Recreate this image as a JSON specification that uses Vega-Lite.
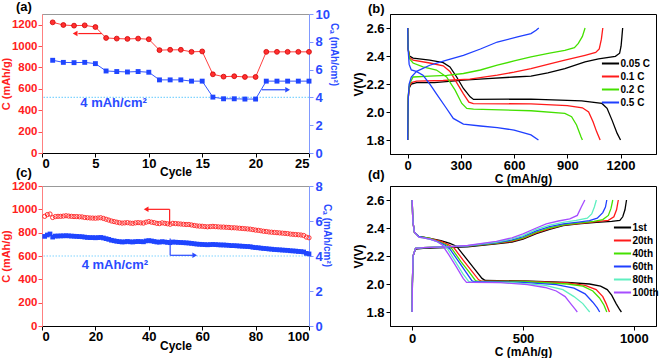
{
"$schema":"https://vega.github.io/schema/vega-lite/v6.json",
"padding":{"left":-1,"top":0,"right":0,"bottom":0},
"resolve":{"scale":{"color":"independent"},"legend":{"color":"independent"}},
"config":{"font":"Liberation Sans","view":{"stroke":"black","strokeWidth":1},
"axis":{"grid":false,"labelFontWeight":"bold","titleFontWeight":"bold","labelFontSize":13,"titleFontSize":12,"labelColor":"black","titleColor":"black","domainColor":"black","tickColor":"black","tickSize":4,"labelPadding":2,"titlePadding":3},
"title":{"fontSize":13,"fontWeight":"bold","anchor":"start","frame":"group","color":"black","offset":0},
"legend":{"labelFontSize":10,"labelFontWeight":"bold","labelColor":"black","rowPadding":0,"symbolStrokeWidth":2,"symbolType":"M-1.4,0H1.4","symbolSize":150,"labelOffset":2.5,"title":null}},
"columns":2,
"spacing":{"row":32,"column":81},
"bounds":"flush",
"datasets":{
"a":[{"cycle":1,"c":1222,"ca":6.67},{"cycle":2,"c":1197,"ca":6.52},{"cycle":3,"c":1191,"ca":6.5},{"cycle":4,"c":1194,"ca":6.52},{"cycle":5,"c":1178,"ca":6.43},{"cycle":6,"c":1076,"ca":5.9},{"cycle":7,"c":1070,"ca":5.86},{"cycle":8,"c":1067,"ca":5.83},{"cycle":9,"c":1070,"ca":5.86},{"cycle":10,"c":1064,"ca":5.81},{"cycle":11,"c":962,"ca":5.26},{"cycle":12,"c":965,"ca":5.26},{"cycle":13,"c":965,"ca":5.26},{"cycle":14,"c":946,"ca":5.17},{"cycle":15,"c":950,"ca":5.17},{"cycle":16,"c":736,"ca":4.02},{"cycle":17,"c":714,"ca":3.9},{"cycle":18,"c":718,"ca":3.9},{"cycle":19,"c":711,"ca":3.88},{"cycle":20,"c":711,"ca":3.88},{"cycle":21,"c":946,"ca":5.17},{"cycle":22,"c":946,"ca":5.17},{"cycle":23,"c":946,"ca":5.17},{"cycle":24,"c":946,"ca":5.17},{"cycle":25,"c":946,"ca":5.17}],
"c":[{"cycle":1,"c":940,"ca":5.12},{"cycle":2,"c":955,"ca":5.2},{"cycle":3,"c":960,"ca":5.26},{"cycle":4,"c":930,"ca":5.08},{"cycle":5,"c":938,"ca":5.14},{"cycle":6,"c":940,"ca":5.14},{"cycle":7,"c":940,"ca":5.15},{"cycle":8,"c":942,"ca":5.15},{"cycle":9,"c":945,"ca":5.16},{"cycle":10,"c":942,"ca":5.15},{"cycle":11,"c":940,"ca":5.14},{"cycle":12,"c":938,"ca":5.13},{"cycle":13,"c":938,"ca":5.12},{"cycle":14,"c":936,"ca":5.11},{"cycle":15,"c":935,"ca":5.1},{"cycle":16,"c":930,"ca":5.08},{"cycle":17,"c":928,"ca":5.06},{"cycle":18,"c":926,"ca":5.05},{"cycle":19,"c":925,"ca":5.05},{"cycle":20,"c":924,"ca":5.04},{"cycle":21,"c":926,"ca":5.05},{"cycle":22,"c":928,"ca":5.06},{"cycle":23,"c":922,"ca":5.03},{"cycle":24,"c":915,"ca":4.99},{"cycle":25,"c":908,"ca":4.95},{"cycle":26,"c":900,"ca":4.9},{"cycle":27,"c":895,"ca":4.87},{"cycle":28,"c":890,"ca":4.84},{"cycle":29,"c":885,"ca":4.82},{"cycle":30,"c":882,"ca":4.8},{"cycle":31,"c":884,"ca":4.81},{"cycle":32,"c":886,"ca":4.83},{"cycle":33,"c":882,"ca":4.81},{"cycle":34,"c":880,"ca":4.8},{"cycle":35,"c":884,"ca":4.82},{"cycle":36,"c":886,"ca":4.83},{"cycle":37,"c":884,"ca":4.82},{"cycle":38,"c":882,"ca":4.81},{"cycle":39,"c":890,"ca":4.86},{"cycle":40,"c":895,"ca":4.88},{"cycle":41,"c":890,"ca":4.86},{"cycle":42,"c":886,"ca":4.83},{"cycle":43,"c":880,"ca":4.8},{"cycle":44,"c":878,"ca":4.79},{"cycle":45,"c":884,"ca":4.82},{"cycle":46,"c":880,"ca":4.8},{"cycle":47,"c":876,"ca":4.78},{"cycle":48,"c":872,"ca":4.76},{"cycle":49,"c":880,"ca":4.8},{"cycle":50,"c":878,"ca":4.79},{"cycle":51,"c":876,"ca":4.78},{"cycle":52,"c":874,"ca":4.77},{"cycle":53,"c":872,"ca":4.76},{"cycle":54,"c":870,"ca":4.75},{"cycle":55,"c":870,"ca":4.74},{"cycle":56,"c":866,"ca":4.72},{"cycle":57,"c":862,"ca":4.7},{"cycle":58,"c":858,"ca":4.68},{"cycle":59,"c":856,"ca":4.67},{"cycle":60,"c":855,"ca":4.66},{"cycle":61,"c":852,"ca":4.65},{"cycle":62,"c":850,"ca":4.64},{"cycle":63,"c":852,"ca":4.65},{"cycle":64,"c":854,"ca":4.66},{"cycle":65,"c":852,"ca":4.65},{"cycle":66,"c":850,"ca":4.64},{"cycle":67,"c":848,"ca":4.63},{"cycle":68,"c":848,"ca":4.63},{"cycle":69,"c":846,"ca":4.62},{"cycle":70,"c":845,"ca":4.61},{"cycle":71,"c":842,"ca":4.59},{"cycle":72,"c":842,"ca":4.59},{"cycle":73,"c":840,"ca":4.58},{"cycle":74,"c":838,"ca":4.57},{"cycle":75,"c":836,"ca":4.56},{"cycle":76,"c":834,"ca":4.55},{"cycle":77,"c":832,"ca":4.54},{"cycle":78,"c":830,"ca":4.53},{"cycle":79,"c":826,"ca":4.5},{"cycle":80,"c":822,"ca":4.48},{"cycle":81,"c":820,"ca":4.47},{"cycle":82,"c":816,"ca":4.45},{"cycle":83,"c":812,"ca":4.43},{"cycle":84,"c":810,"ca":4.42},{"cycle":85,"c":806,"ca":4.4},{"cycle":86,"c":804,"ca":4.39},{"cycle":87,"c":802,"ca":4.37},{"cycle":88,"c":800,"ca":4.36},{"cycle":89,"c":798,"ca":4.35},{"cycle":90,"c":796,"ca":4.34},{"cycle":91,"c":794,"ca":4.33},{"cycle":92,"c":792,"ca":4.32},{"cycle":93,"c":788,"ca":4.3},{"cycle":94,"c":786,"ca":4.29},{"cycle":95,"c":784,"ca":4.28},{"cycle":96,"c":782,"ca":4.26},{"cycle":97,"c":780,"ca":4.25},{"cycle":98,"c":776,"ca":4.23},{"cycle":99,"c":762,"ca":4.15},{"cycle":100,"c":756,"ca":4.12}],
"b":[
{"r":"0.05 C","s":"d","x":0,"v":2.6},{"r":"0.05 C","s":"d","x":1,"v":2.5},{"r":"0.05 C","s":"d","x":2,"v":2.45},{"r":"0.05 C","s":"d","x":10,"v":2.4},{"r":"0.05 C","s":"d","x":30,"v":2.385},{"r":"0.05 C","s":"d","x":124,"v":2.37},{"r":"0.05 C","s":"d","x":200,"v":2.353},{"r":"0.05 C","s":"d","x":238,"v":2.322},{"r":"0.05 C","s":"d","x":276,"v":2.25},{"r":"0.05 C","s":"d","x":314,"v":2.168},{"r":"0.05 C","s":"d","x":352,"v":2.108},{"r":"0.05 C","s":"d","x":371,"v":2.09},{"r":"0.05 C","s":"d","x":695,"v":2.092},{"r":"0.05 C","s":"d","x":981,"v":2.08},{"r":"0.05 C","s":"d","x":1095,"v":2.061},{"r":"0.05 C","s":"d","x":1124,"v":2.026},{"r":"0.05 C","s":"d","x":1152,"v":1.942},{"r":"0.05 C","s":"d","x":1181,"v":1.847},{"r":"0.05 C","s":"d","x":1200,"v":1.8},
{"r":"0.05 C","s":"c","x":0,"v":1.8},{"r":"0.05 C","s":"c","x":1,"v":1.95},{"r":"0.05 C","s":"c","x":3,"v":2.1},{"r":"0.05 C","s":"c","x":8,"v":2.17},{"r":"0.05 C","s":"c","x":20,"v":2.2},{"r":"0.05 C","s":"c","x":50,"v":2.21},{"r":"0.05 C","s":"c","x":150,"v":2.21},{"r":"0.05 C","s":"c","x":314,"v":2.227},{"r":"0.05 C","s":"c","x":450,"v":2.238},{"r":"0.05 C","s":"c","x":600,"v":2.25},{"r":"0.05 C","s":"c","x":695,"v":2.256},{"r":"0.05 C","s":"c","x":790,"v":2.28},{"r":"0.05 C","s":"c","x":886,"v":2.31},{"r":"0.05 C","s":"c","x":1000,"v":2.358},{"r":"0.05 C","s":"c","x":1076,"v":2.38},{"r":"0.05 C","s":"c","x":1171,"v":2.398},{"r":"0.05 C","s":"c","x":1195,"v":2.42},{"r":"0.05 C","s":"c","x":1203,"v":2.47},{"r":"0.05 C","s":"c","x":1208,"v":2.54},{"r":"0.05 C","s":"c","x":1212,"v":2.6},
{"r":"0.1 C","s":"d","x":0,"v":2.6},{"r":"0.1 C","s":"d","x":1,"v":2.5},{"r":"0.1 C","s":"d","x":2,"v":2.45},{"r":"0.1 C","s":"d","x":10,"v":2.39},{"r":"0.1 C","s":"d","x":30,"v":2.37},{"r":"0.1 C","s":"d","x":124,"v":2.35},{"r":"0.1 C","s":"d","x":200,"v":2.33},{"r":"0.1 C","s":"d","x":238,"v":2.29},{"r":"0.1 C","s":"d","x":276,"v":2.21},{"r":"0.1 C","s":"d","x":314,"v":2.13},{"r":"0.1 C","s":"d","x":345,"v":2.07},{"r":"0.1 C","s":"d","x":370,"v":2.06},{"r":"0.1 C","s":"d","x":695,"v":2.058},{"r":"0.1 C","s":"d","x":900,"v":2.045},{"r":"0.1 C","s":"d","x":985,"v":2.03},{"r":"0.1 C","s":"d","x":1020,"v":2.0},{"r":"0.1 C","s":"d","x":1045,"v":1.93},{"r":"0.1 C","s":"d","x":1065,"v":1.86},{"r":"0.1 C","s":"d","x":1085,"v":1.8},
{"r":"0.1 C","s":"c","x":0,"v":1.8},{"r":"0.1 C","s":"c","x":1,"v":1.95},{"r":"0.1 C","s":"c","x":3,"v":2.1},{"r":"0.1 C","s":"c","x":8,"v":2.18},{"r":"0.1 C","s":"c","x":20,"v":2.21},{"r":"0.1 C","s":"c","x":50,"v":2.22},{"r":"0.1 C","s":"c","x":200,"v":2.225},{"r":"0.1 C","s":"c","x":350,"v":2.235},{"r":"0.1 C","s":"c","x":505,"v":2.263},{"r":"0.1 C","s":"c","x":600,"v":2.285},{"r":"0.1 C","s":"c","x":695,"v":2.31},{"r":"0.1 C","s":"c","x":790,"v":2.34},{"r":"0.1 C","s":"c","x":886,"v":2.37},{"r":"0.1 C","s":"c","x":1000,"v":2.405},{"r":"0.1 C","s":"c","x":1060,"v":2.425},{"r":"0.1 C","s":"c","x":1080,"v":2.45},{"r":"0.1 C","s":"c","x":1092,"v":2.52},{"r":"0.1 C","s":"c","x":1100,"v":2.6},
{"r":"0.2 C","s":"d","x":0,"v":2.6},{"r":"0.2 C","s":"d","x":1,"v":2.5},{"r":"0.2 C","s":"d","x":3,"v":2.45},{"r":"0.2 C","s":"d","x":10,"v":2.38},{"r":"0.2 C","s":"d","x":30,"v":2.35},{"r":"0.2 C","s":"d","x":86,"v":2.322},{"r":"0.2 C","s":"d","x":162,"v":2.3},{"r":"0.2 C","s":"d","x":219,"v":2.25},{"r":"0.2 C","s":"d","x":267,"v":2.156},{"r":"0.2 C","s":"d","x":305,"v":2.061},{"r":"0.2 C","s":"d","x":333,"v":2.026},{"r":"0.2 C","s":"d","x":371,"v":2.02},{"r":"0.2 C","s":"d","x":695,"v":2.009},{"r":"0.2 C","s":"d","x":886,"v":1.99},{"r":"0.2 C","s":"d","x":924,"v":1.966},{"r":"0.2 C","s":"d","x":952,"v":1.907},{"r":"0.2 C","s":"d","x":977,"v":1.824},{"r":"0.2 C","s":"d","x":985,"v":1.8},
{"r":"0.2 C","s":"c","x":0,"v":1.8},{"r":"0.2 C","s":"c","x":1,"v":1.95},{"r":"0.2 C","s":"c","x":3,"v":2.12},{"r":"0.2 C","s":"c","x":10,"v":2.2},{"r":"0.2 C","s":"c","x":30,"v":2.25},{"r":"0.2 C","s":"c","x":124,"v":2.256},{"r":"0.2 C","s":"c","x":220,"v":2.262},{"r":"0.2 C","s":"c","x":314,"v":2.275},{"r":"0.2 C","s":"c","x":410,"v":2.3},{"r":"0.2 C","s":"c","x":505,"v":2.334},{"r":"0.2 C","s":"c","x":600,"v":2.365},{"r":"0.2 C","s":"c","x":695,"v":2.393},{"r":"0.2 C","s":"c","x":800,"v":2.42},{"r":"0.2 C","s":"c","x":886,"v":2.44},{"r":"0.2 C","s":"c","x":940,"v":2.46},{"r":"0.2 C","s":"c","x":962,"v":2.49},{"r":"0.2 C","s":"c","x":985,"v":2.54},{"r":"0.2 C","s":"c","x":1000,"v":2.6},
{"r":"0.5 C","s":"d","x":0,"v":2.6},{"r":"0.5 C","s":"d","x":2,"v":2.45},{"r":"0.5 C","s":"d","x":8,"v":2.34},{"r":"0.5 C","s":"d","x":20,"v":2.3},{"r":"0.5 C","s":"d","x":48,"v":2.29},{"r":"0.5 C","s":"d","x":86,"v":2.263},{"r":"0.5 C","s":"d","x":124,"v":2.2},{"r":"0.5 C","s":"d","x":162,"v":2.13},{"r":"0.5 C","s":"d","x":219,"v":2.025},{"r":"0.5 C","s":"d","x":257,"v":1.954},{"r":"0.5 C","s":"d","x":314,"v":1.914},{"r":"0.5 C","s":"d","x":410,"v":1.9},{"r":"0.5 C","s":"d","x":505,"v":1.888},{"r":"0.5 C","s":"d","x":600,"v":1.871},{"r":"0.5 C","s":"d","x":695,"v":1.836},{"r":"0.5 C","s":"d","x":737,"v":1.8},
{"r":"0.5 C","s":"c","x":0,"v":1.8},{"r":"0.5 C","s":"c","x":1,"v":1.95},{"r":"0.5 C","s":"c","x":3,"v":2.1},{"r":"0.5 C","s":"c","x":8,"v":2.2},{"r":"0.5 C","s":"c","x":20,"v":2.25},{"r":"0.5 C","s":"c","x":50,"v":2.29},{"r":"0.5 C","s":"c","x":124,"v":2.334},{"r":"0.5 C","s":"c","x":220,"v":2.37},{"r":"0.5 C","s":"c","x":314,"v":2.405},{"r":"0.5 C","s":"c","x":410,"v":2.45},{"r":"0.5 C","s":"c","x":505,"v":2.5},{"r":"0.5 C","s":"c","x":619,"v":2.536},{"r":"0.5 C","s":"c","x":695,"v":2.56},{"r":"0.5 C","s":"c","x":724,"v":2.584},{"r":"0.5 C","s":"c","x":739,"v":2.6}],
"d":[
{"k":"1st","s":"d","x":0,"v":2.6},{"k":"1st","s":"d","x":3,"v":2.45},{"k":"1st","s":"d","x":10,"v":2.37},{"k":"1st","s":"d","x":30,"v":2.34},{"k":"1st","s":"d","x":80,"v":2.325},{"k":"1st","s":"d","x":130,"v":2.31},{"k":"1st","s":"d","x":170,"v":2.29},{"k":"1st","s":"d","x":200,"v":2.27},{"k":"1st","s":"d","x":240,"v":2.19},{"k":"1st","s":"d","x":280,"v":2.11},{"k":"1st","s":"d","x":315,"v":2.04},{"k":"1st","s":"d","x":330,"v":2.025},{"k":"1st","s":"d","x":500,"v":2.022},{"k":"1st","s":"d","x":700,"v":2.012},{"k":"1st","s":"d","x":800,"v":2.0},{"k":"1st","s":"d","x":850,"v":1.985},{"k":"1st","s":"d","x":880,"v":1.96},{"k":"1st","s":"d","x":900,"v":1.92},{"k":"1st","s":"d","x":920,"v":1.86},{"k":"1st","s":"d","x":935,"v":1.82},{"k":"1st","s":"d","x":944,"v":1.8},
{"k":"1st","s":"c","x":0,"v":1.8},{"k":"1st","s":"c","x":1,"v":2.0},{"k":"1st","s":"c","x":4,"v":2.2},{"k":"1st","s":"c","x":15,"v":2.25},{"k":"1st","s":"c","x":50,"v":2.255},{"k":"1st","s":"c","x":150,"v":2.26},{"k":"1st","s":"c","x":250,"v":2.265},{"k":"1st","s":"c","x":380,"v":2.287},{"k":"1st","s":"c","x":450,"v":2.3},{"k":"1st","s":"c","x":500,"v":2.32},{"k":"1st","s":"c","x":560,"v":2.36},{"k":"1st","s":"c","x":620,"v":2.39},{"k":"1st","s":"c","x":681,"v":2.417},{"k":"1st","s":"c","x":750,"v":2.43},{"k":"1st","s":"c","x":831,"v":2.44},{"k":"1st","s":"c","x":900,"v":2.447},{"k":"1st","s":"c","x":937,"v":2.455},{"k":"1st","s":"c","x":950,"v":2.48},{"k":"1st","s":"c","x":960,"v":2.53},{"k":"1st","s":"c","x":967,"v":2.6},
{"k":"20th","s":"d","x":0,"v":2.6},{"k":"20th","s":"d","x":3,"v":2.45},{"k":"20th","s":"d","x":10,"v":2.37},{"k":"20th","s":"d","x":30,"v":2.34},{"k":"20th","s":"d","x":80,"v":2.325},{"k":"20th","s":"d","x":130,"v":2.305},{"k":"20th","s":"d","x":165,"v":2.28},{"k":"20th","s":"d","x":190,"v":2.255},{"k":"20th","s":"d","x":230,"v":2.17},{"k":"20th","s":"d","x":270,"v":2.09},{"k":"20th","s":"d","x":300,"v":2.03},{"k":"20th","s":"d","x":312,"v":2.02},{"k":"20th","s":"d","x":500,"v":2.02},{"k":"20th","s":"d","x":700,"v":2.008},{"k":"20th","s":"d","x":780,"v":1.99},{"k":"20th","s":"d","x":830,"v":1.96},{"k":"20th","s":"d","x":860,"v":1.91},{"k":"20th","s":"d","x":875,"v":1.86},{"k":"20th","s":"d","x":890,"v":1.8},
{"k":"20th","s":"c","x":0,"v":1.8},{"k":"20th","s":"c","x":1,"v":2.0},{"k":"20th","s":"c","x":4,"v":2.2},{"k":"20th","s":"c","x":15,"v":2.255},{"k":"20th","s":"c","x":50,"v":2.26},{"k":"20th","s":"c","x":150,"v":2.265},{"k":"20th","s":"c","x":250,"v":2.27},{"k":"20th","s":"c","x":380,"v":2.29},{"k":"20th","s":"c","x":450,"v":2.305},{"k":"20th","s":"c","x":500,"v":2.325},{"k":"20th","s":"c","x":560,"v":2.365},{"k":"20th","s":"c","x":620,"v":2.395},{"k":"20th","s":"c","x":681,"v":2.42},{"k":"20th","s":"c","x":750,"v":2.432},{"k":"20th","s":"c","x":831,"v":2.445},{"k":"20th","s":"c","x":885,"v":2.455},{"k":"20th","s":"c","x":910,"v":2.48},{"k":"20th","s":"c","x":922,"v":2.53},{"k":"20th","s":"c","x":930,"v":2.6},
{"k":"40th","s":"d","x":0,"v":2.6},{"k":"40th","s":"d","x":3,"v":2.45},{"k":"40th","s":"d","x":10,"v":2.37},{"k":"40th","s":"d","x":30,"v":2.34},{"k":"40th","s":"d","x":80,"v":2.325},{"k":"40th","s":"d","x":125,"v":2.3},{"k":"40th","s":"d","x":160,"v":2.275},{"k":"40th","s":"d","x":180,"v":2.25},{"k":"40th","s":"d","x":220,"v":2.16},{"k":"40th","s":"d","x":260,"v":2.08},{"k":"40th","s":"d","x":285,"v":2.025},{"k":"40th","s":"d","x":298,"v":2.018},{"k":"40th","s":"d","x":500,"v":2.018},{"k":"40th","s":"d","x":700,"v":2.0},{"k":"40th","s":"d","x":770,"v":1.985},{"k":"40th","s":"d","x":815,"v":1.95},{"k":"40th","s":"d","x":845,"v":1.9},{"k":"40th","s":"d","x":865,"v":1.85},{"k":"40th","s":"d","x":878,"v":1.8},
{"k":"40th","s":"c","x":0,"v":1.8},{"k":"40th","s":"c","x":1,"v":2.0},{"k":"40th","s":"c","x":4,"v":2.2},{"k":"40th","s":"c","x":15,"v":2.255},{"k":"40th","s":"c","x":50,"v":2.26},{"k":"40th","s":"c","x":150,"v":2.265},{"k":"40th","s":"c","x":250,"v":2.27},{"k":"40th","s":"c","x":380,"v":2.292},{"k":"40th","s":"c","x":450,"v":2.31},{"k":"40th","s":"c","x":500,"v":2.33},{"k":"40th","s":"c","x":560,"v":2.37},{"k":"40th","s":"c","x":620,"v":2.4},{"k":"40th","s":"c","x":681,"v":2.423},{"k":"40th","s":"c","x":750,"v":2.435},{"k":"40th","s":"c","x":820,"v":2.448},{"k":"40th","s":"c","x":860,"v":2.46},{"k":"40th","s":"c","x":885,"v":2.49},{"k":"40th","s":"c","x":897,"v":2.54},{"k":"40th","s":"c","x":905,"v":2.6},
{"k":"60th","s":"d","x":0,"v":2.6},{"k":"60th","s":"d","x":3,"v":2.45},{"k":"60th","s":"d","x":10,"v":2.37},{"k":"60th","s":"d","x":30,"v":2.34},{"k":"60th","s":"d","x":80,"v":2.32},{"k":"60th","s":"d","x":120,"v":2.3},{"k":"60th","s":"d","x":150,"v":2.275},{"k":"60th","s":"d","x":170,"v":2.25},{"k":"60th","s":"d","x":210,"v":2.16},{"k":"60th","s":"d","x":245,"v":2.08},{"k":"60th","s":"d","x":270,"v":2.022},{"k":"60th","s":"d","x":282,"v":2.016},{"k":"60th","s":"d","x":500,"v":2.012},{"k":"60th","s":"d","x":650,"v":1.995},{"k":"60th","s":"d","x":730,"v":1.97},{"k":"60th","s":"d","x":780,"v":1.93},{"k":"60th","s":"d","x":815,"v":1.87},{"k":"60th","s":"d","x":835,"v":1.83},{"k":"60th","s":"d","x":846,"v":1.8},
{"k":"60th","s":"c","x":0,"v":1.8},{"k":"60th","s":"c","x":1,"v":2.0},{"k":"60th","s":"c","x":4,"v":2.2},{"k":"60th","s":"c","x":15,"v":2.255},{"k":"60th","s":"c","x":50,"v":2.26},{"k":"60th","s":"c","x":150,"v":2.265},{"k":"60th","s":"c","x":250,"v":2.272},{"k":"60th","s":"c","x":380,"v":2.295},{"k":"60th","s":"c","x":450,"v":2.315},{"k":"60th","s":"c","x":500,"v":2.338},{"k":"60th","s":"c","x":560,"v":2.38},{"k":"60th","s":"c","x":620,"v":2.41},{"k":"60th","s":"c","x":681,"v":2.43},{"k":"60th","s":"c","x":750,"v":2.442},{"k":"60th","s":"c","x":800,"v":2.452},{"k":"60th","s":"c","x":835,"v":2.47},{"k":"60th","s":"c","x":860,"v":2.51},{"k":"60th","s":"c","x":872,"v":2.55},{"k":"60th","s":"c","x":878,"v":2.6},
{"k":"80th","s":"d","x":0,"v":2.6},{"k":"80th","s":"d","x":3,"v":2.45},{"k":"80th","s":"d","x":10,"v":2.37},{"k":"80th","s":"d","x":30,"v":2.335},{"k":"80th","s":"d","x":80,"v":2.32},{"k":"80th","s":"d","x":115,"v":2.3},{"k":"80th","s":"d","x":140,"v":2.275},{"k":"80th","s":"d","x":160,"v":2.25},{"k":"80th","s":"d","x":195,"v":2.16},{"k":"80th","s":"d","x":230,"v":2.07},{"k":"80th","s":"d","x":255,"v":2.018},{"k":"80th","s":"d","x":268,"v":2.014},{"k":"80th","s":"d","x":450,"v":2.01},{"k":"80th","s":"d","x":600,"v":1.99},{"k":"80th","s":"d","x":680,"v":1.96},{"k":"80th","s":"d","x":730,"v":1.91},{"k":"80th","s":"d","x":770,"v":1.86},{"k":"80th","s":"d","x":790,"v":1.82},{"k":"80th","s":"d","x":801,"v":1.8},
{"k":"80th","s":"c","x":0,"v":1.8},{"k":"80th","s":"c","x":1,"v":2.0},{"k":"80th","s":"c","x":4,"v":2.2},{"k":"80th","s":"c","x":15,"v":2.255},{"k":"80th","s":"c","x":50,"v":2.26},{"k":"80th","s":"c","x":150,"v":2.265},{"k":"80th","s":"c","x":250,"v":2.274},{"k":"80th","s":"c","x":380,"v":2.3},{"k":"80th","s":"c","x":450,"v":2.322},{"k":"80th","s":"c","x":500,"v":2.345},{"k":"80th","s":"c","x":560,"v":2.39},{"k":"80th","s":"c","x":620,"v":2.42},{"k":"80th","s":"c","x":681,"v":2.44},{"k":"80th","s":"c","x":740,"v":2.455},{"k":"80th","s":"c","x":790,"v":2.47},{"k":"80th","s":"c","x":810,"v":2.5},{"k":"80th","s":"c","x":822,"v":2.55},{"k":"80th","s":"c","x":831,"v":2.6},
{"k":"100th","s":"d","x":0,"v":2.6},{"k":"100th","s":"d","x":3,"v":2.45},{"k":"100th","s":"d","x":10,"v":2.37},{"k":"100th","s":"d","x":30,"v":2.335},{"k":"100th","s":"d","x":80,"v":2.32},{"k":"100th","s":"d","x":110,"v":2.305},{"k":"100th","s":"d","x":135,"v":2.28},{"k":"100th","s":"d","x":165,"v":2.21},{"k":"100th","s":"d","x":200,"v":2.12},{"k":"100th","s":"d","x":230,"v":2.04},{"k":"100th","s":"d","x":245,"v":2.012},{"k":"100th","s":"d","x":265,"v":2.012},{"k":"100th","s":"d","x":400,"v":2.01},{"k":"100th","s":"d","x":520,"v":1.995},{"k":"100th","s":"d","x":600,"v":1.975},{"k":"100th","s":"d","x":650,"v":1.95},{"k":"100th","s":"d","x":690,"v":1.91},{"k":"100th","s":"d","x":715,"v":1.86},{"k":"100th","s":"d","x":735,"v":1.82},{"k":"100th","s":"d","x":745,"v":1.8},
{"k":"100th","s":"c","x":0,"v":1.8},{"k":"100th","s":"c","x":1,"v":2.0},{"k":"100th","s":"c","x":4,"v":2.2},{"k":"100th","s":"c","x":15,"v":2.255},{"k":"100th","s":"c","x":50,"v":2.26},{"k":"100th","s":"c","x":150,"v":2.265},{"k":"100th","s":"c","x":250,"v":2.275},{"k":"100th","s":"c","x":380,"v":2.305},{"k":"100th","s":"c","x":450,"v":2.33},{"k":"100th","s":"c","x":500,"v":2.358},{"k":"100th","s":"c","x":560,"v":2.4},{"k":"100th","s":"c","x":605,"v":2.43},{"k":"100th","s":"c","x":660,"v":2.45},{"k":"100th","s":"c","x":711,"v":2.465},{"k":"100th","s":"c","x":745,"v":2.49},{"k":"100th","s":"c","x":763,"v":2.55},{"k":"100th","s":"c","x":779,"v":2.6}]
},
"concat":[
{"width":267,"height":139,"view":{"stroke":"#999999"},
 "title":{"text":"(a)","dx":-26,"dy":10},
 "data":{"name":"a"},
 "layer":[
  {"encoding":{"y":{"field":"c","type":"quantitative","scale":{"domain":[0,1300],"nice":false},
     "axis":{"orient":"left","values":[0,200,400,600,800,1000,1200],"format":"d","title":"C (mAh/g)","titleFontSize":11,"labelFontSize":11.5,"titlePadding":0,"labelPadding":1,"titleColor":"#ff2020","labelColor":"#ff2020","domainColor":"#ff8080","tickColor":"#ff5050"}}},
   "layer":[
    {"mark":{"type":"line","color":"#ff4040","strokeWidth":1},"encoding":{"x":{"field":"cycle","type":"quantitative","scale":{"domain":[0,25],"nice":false},"axis":{"values":[0,5,10,15,20,25],"title":"Cycle","labelPadding":0,"titlePadding":-4}}}},
    {"mark":{"type":"point","shape":"circle","filled":true,"fill":"#ff3030","stroke":"#d00000","strokeWidth":0.8,"size":24,"opacity":1},"encoding":{"x":{"field":"cycle","type":"quantitative","scale":{"domain":[0,25],"nice":false}}}},
    {"data":{"values":[{"cycle":5.6,"cycle2":3.4,"c":1117}]},"mark":{"type":"rule","color":"#ff2020","strokeWidth":1.2},"encoding":{"x":{"field":"cycle","type":"quantitative","scale":{"domain":[0,25],"nice":false}},"x2":{"field":"cycle2"}}},
    {"data":{"values":[{"cycle":3.1,"c":1117}]},"mark":{"type":"point","shape":"triangle-left","filled":true,"color":"#ff2020","size":30,"opacity":1},"encoding":{"x":{"field":"cycle","type":"quantitative","scale":{"domain":[0,25],"nice":false}}}}
   ]},
  {"encoding":{"y":{"field":"ca","type":"quantitative","scale":{"domain":[0,10],"nice":false},
     "axis":{"orient":"right","values":[0,2,4,6,8,10],"title":"Cₐ (mAh/cm²)","titleFontSize":10,"titlePadding":-1,"titleY":40,"labelFontSize":13,"titleColor":"#2a4bff","labelColor":"#2a4bff","domainColor":"#8099ff","tickColor":"#8099ff"}}},
   "layer":[
    {"data":{"values":[{"ca":4}]},"mark":{"type":"rule","color":"#80d4ff","strokeWidth":1.2,"strokeDash":[1.5,1.5]}},
    {"mark":{"type":"line","color":"#3355ff","strokeWidth":1},"encoding":{"x":{"field":"cycle","type":"quantitative","scale":{"domain":[0,25],"nice":false}}}},
    {"mark":{"type":"point","shape":"square","filled":true,"color":"#1f45ff","size":24,"opacity":1},"encoding":{"x":{"field":"cycle","type":"quantitative","scale":{"domain":[0,25],"nice":false}}}},
    {"data":{"values":[{"cycle":20.6,"cycle2":22.8,"ca":4.55}]},"mark":{"type":"rule","color":"#2a4bff","strokeWidth":1.2},"encoding":{"x":{"field":"cycle","type":"quantitative","scale":{"domain":[0,25],"nice":false}},"x2":{"field":"cycle2"}}},
    {"data":{"values":[{"cycle":23.0,"ca":4.55}]},"mark":{"type":"point","shape":"triangle-right","filled":true,"color":"#2a4bff","size":30,"opacity":1},"encoding":{"x":{"field":"cycle","type":"quantitative","scale":{"domain":[0,25],"nice":false}}}},
    {"data":{"values":[{"cycle":6.7,"ca":3.6,"label":"4 mAh/cm²"}]},"mark":{"type":"text","fontSize":13,"fontWeight":"bold","color":"#2a4bff"},"encoding":{"x":{"field":"cycle","type":"quantitative","scale":{"domain":[0,25],"nice":false}},"text":{"field":"label"}}}
   ]}
 ],
 "resolve":{"scale":{"y":"independent"}}},
{"width":266,"height":140,
 "title":{"text":"(b)","dx":-22,"dy":6},
 "data":{"name":"b"},
 "mark":{"type":"line","strokeWidth":1.3},
 "encoding":{
  "x":{"field":"x","type":"quantitative","scale":{"domain":[-100,1400],"nice":false},"axis":{"values":[0,300,600,900,1200],"format":"d","title":"C (mAh/g)","labelPadding":1,"titlePadding":1}},
  "y":{"field":"v","type":"quantitative","scale":{"domain":[1.7,2.7],"nice":false,"zero":false},"axis":{"values":[1.8,2.0,2.2,2.4,2.6],"format":".1f","title":"V(V)","titlePadding":0}},
  "color":{"field":"r","type":"nominal","scale":{"domain":["0.05 C","0.1 C","0.2 C","0.5 C"],"range":["#000000","#ff1a1a","#44e000","#1f3fff"]},"legend":{"orient":"none","legendX":213,"legendY":42}},
  "detail":{"field":"s"}}},
{"width":267,"height":140,"view":{"stroke":"#999999"},
 "title":{"text":"(c)","dx":-26,"dy":4},
 "data":{"name":"c"},
 "layer":[
  {"encoding":{"y":{"field":"c","type":"quantitative","scale":{"domain":[0,1200],"nice":false},
     "axis":{"orient":"left","values":[0,200,400,600,800,1000,1200],"format":"d","title":"C (mAh/g)","titleFontSize":11,"labelFontSize":11.5,"titlePadding":0,"labelPadding":1,"titleColor":"#ff2020","labelColor":"#ff2020","domainColor":"#ff8080","tickColor":"#ff5050"}}},
   "layer":[
    {"mark":{"type":"point","shape":"circle","filled":false,"color":"#ff3030","strokeWidth":1,"size":18,"opacity":1},"encoding":{"x":{"field":"cycle","type":"quantitative","scale":{"domain":[0,100],"nice":false},"axis":{"values":[0,20,40,60,80,100],"title":"Cycle","labelPadding":0,"titlePadding":-3}}}},
    {"data":{"values":[{"cycle":47.8,"cycle2":47.8,"c":871,"c2":1000},{"cycle":47.8,"cycle2":39.6,"c":1000,"c2":1000}]},"mark":{"type":"rule","color":"#ff2020","strokeWidth":1.2},"encoding":{"x":{"field":"cycle","type":"quantitative","scale":{"domain":[0,100],"nice":false}},"x2":{"field":"cycle2"},"y2":{"field":"c2"}}},
    {"data":{"values":[{"cycle":39,"c":1000}]},"mark":{"type":"point","shape":"triangle-left","filled":true,"color":"#ff2020","size":30,"opacity":1},"encoding":{"x":{"field":"cycle","type":"quantitative","scale":{"domain":[0,100],"nice":false}}}}
   ]},
  {"encoding":{"y":{"field":"ca","type":"quantitative","scale":{"domain":[0,8],"nice":false},
     "axis":{"orient":"right","values":[0,2,4,6,8],"title":"Cₐ (mAh/cm²)","titleFontSize":10,"titlePadding":-1,"titleY":49,"labelFontSize":13,"titleColor":"#2a4bff","labelColor":"#2a4bff","domainColor":"#8099ff","tickColor":"#8099ff"}}},
   "layer":[
    {"data":{"values":[{"ca":4}]},"mark":{"type":"rule","color":"#80d4ff","strokeWidth":1.2,"strokeDash":[1.5,1.5]}},
    {"mark":{"type":"point","shape":"square","filled":true,"color":"#1f45ff","size":22,"opacity":1},"encoding":{"x":{"field":"cycle","type":"quantitative","scale":{"domain":[0,100],"nice":false}}}},
    {"data":{"values":[{"cycle":48,"cycle2":48,"ca":5.0,"ca2":4.04},{"cycle":48,"cycle2":56.5,"ca":4.04,"ca2":4.04}]},"mark":{"type":"rule","color":"#2a4bff","strokeWidth":1.2},"encoding":{"x":{"field":"cycle","type":"quantitative","scale":{"domain":[0,100],"nice":false}},"x2":{"field":"cycle2"},"y2":{"field":"ca2"}}},
    {"data":{"values":[{"cycle":57.2,"ca":4.04}]},"mark":{"type":"point","shape":"triangle-right","filled":true,"color":"#2a4bff","size":30,"opacity":1},"encoding":{"x":{"field":"cycle","type":"quantitative","scale":{"domain":[0,100],"nice":false}}}},
    {"data":{"values":[{"cycle":27.3,"ca":3.47,"label":"4 mAh/cm²"}]},"mark":{"type":"text","fontSize":13,"fontWeight":"bold","color":"#2a4bff"},"encoding":{"x":{"field":"cycle","type":"quantitative","scale":{"domain":[0,100],"nice":false}},"text":{"field":"label"}}}
   ]}
 ],
 "resolve":{"scale":{"y":"independent"}}},
{"width":266,"height":140,
 "title":{"text":"(d)","dx":-22,"dy":0},
 "data":{"name":"d"},
 "mark":{"type":"line","strokeWidth":1.3},
 "encoding":{
  "x":{"field":"x","type":"quantitative","scale":{"domain":[-100,1100],"nice":false},"axis":{"values":[0,500,1000],"format":"d","title":"C (mAh/g)","titlePadding":1}},
  "y":{"field":"v","type":"quantitative","scale":{"domain":[1.7,2.7],"nice":false,"zero":false},"axis":{"values":[1.8,2.0,2.2,2.4,2.6],"format":".1f","title":"V(V)","titlePadding":0}},
  "color":{"field":"k","type":"nominal","scale":{"domain":["1st","20th","40th","60th","80th","100th"],"range":["#000000","#ff1a1a","#44e000","#1f3fff","#5fefc0","#a64dff"]},"legend":{"orient":"none","legendX":225,"legendY":34}},
  "detail":{"field":"s"}}}
]
}
